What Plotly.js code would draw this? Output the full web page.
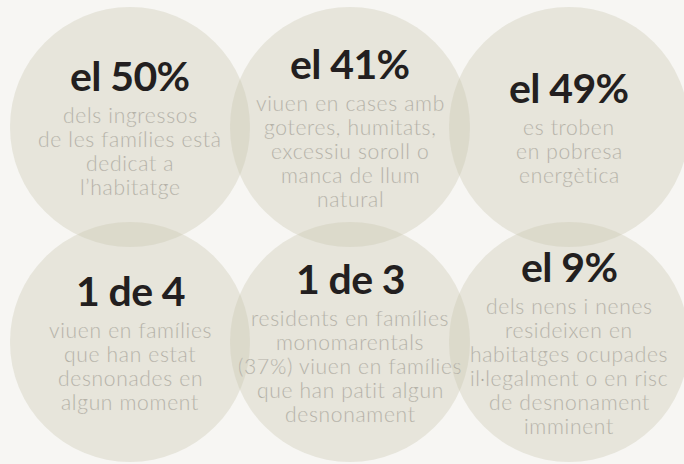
<!DOCTYPE html>
<html>
<head>
<meta charset="utf-8">
<script src="https://cdn.plot.ly/plotly-3.0.1.min.js"></script>
<style>
html,body{margin:0;padding:0;background:#f7f6f3;}
#chart{width:684px;height:464px;}
.annotation-text{letter-spacing:0.7px;}
</style>
</head>
<body>
<div id="chart"></div>
<script>
// Data
const headlines = ["el 50%", "el 41%", "el 49%", "1 de 4", "1 de 3", "el 9%"];
const descriptions = [
  ["dels ingressos", "de les famílies està", "dedicat a", "l’habitatge"],
  ["viuen en cases amb", "goteres, humitats,", "excessiu soroll o", "manca de llum", "natural"],
  ["es troben", "en pobresa", "energètica"],
  ["viuen en famílies", "que han estat", "desnonades en", "algun moment"],
  ["residents en famílies", "monomarentals", "(37%) viuen en famílies", "que han patit algun", "desnonament"],
  ["dels nens i nenes", "resideixen en", "habitatges ocupades", "il·legalment o en risc", "de desnonament", "imminent"]
];

// Layout geometry
const W = 684, H = 464;
const colX = [130, 350, 569];
const rowY = [127, 342];
const R = 120;
const headSize = 41, bodySize = 21, lineGap = 24, headToBody = 32;

const shapes = [];
const annotations = [];
headlines.forEach((h, i) => {
  const cx = colX[i % 3], cy = rowY[Math.floor(i / 3)];
  shapes.push({
    type: "circle", xref: "x", yref: "y",
    x0: cx - R, x1: cx + R, y0: cy - R, y1: cy + R,
    fillcolor: "rgb(201,197,174)", opacity: 0.35, line: {width: 0}, layer: "below"
  });
  const n = descriptions[i].length;
  const hb = cy + 3 - (9 + (n - 1) * lineGap) / 2; // headline baseline
  annotations.push({
    x: cx, y: hb - headSize * 0.33, xref: "x", yref: "y",
    text: "<span style=\"letter-spacing:-0.6px\"><b>" + h + "</b></span>", showarrow: false,
    xanchor: "center", yanchor: "middle",
    font: {family: "Lato, sans-serif", size: headSize, color: "#231f20", weight: 700}
  });
  descriptions[i].forEach((line, j) => {
    const b = hb + headToBody + j * lineGap;
    annotations.push({
      x: cx, y: b - bodySize * 0.33, xref: "x", yref: "y",
      text: "<span style=\"stroke:#e6e4da;stroke-width:0.25px\">" + line + "</span>",
      showarrow: false, xanchor: "center", yanchor: "middle",
      font: {family: "'Lato Light', Lato, sans-serif", size: bodySize, color: "#9f9c95", weight: 300}
    });
  });
});

const layout = {
  width: W, height: H,
  margin: {l: 0, r: 0, t: 0, b: 0, pad: 0},
  paper_bgcolor: "#f7f6f3", plot_bgcolor: "#f7f6f3",
  xaxis: {range: [0, W], visible: false, fixedrange: true},
  yaxis: {range: [H, 0], visible: false, fixedrange: true},
  shapes: shapes, annotations: annotations, showlegend: false
};
Plotly.newPlot("chart", [], layout, {displayModeBar: false, staticPlot: true});
</script>
</body>
</html>
